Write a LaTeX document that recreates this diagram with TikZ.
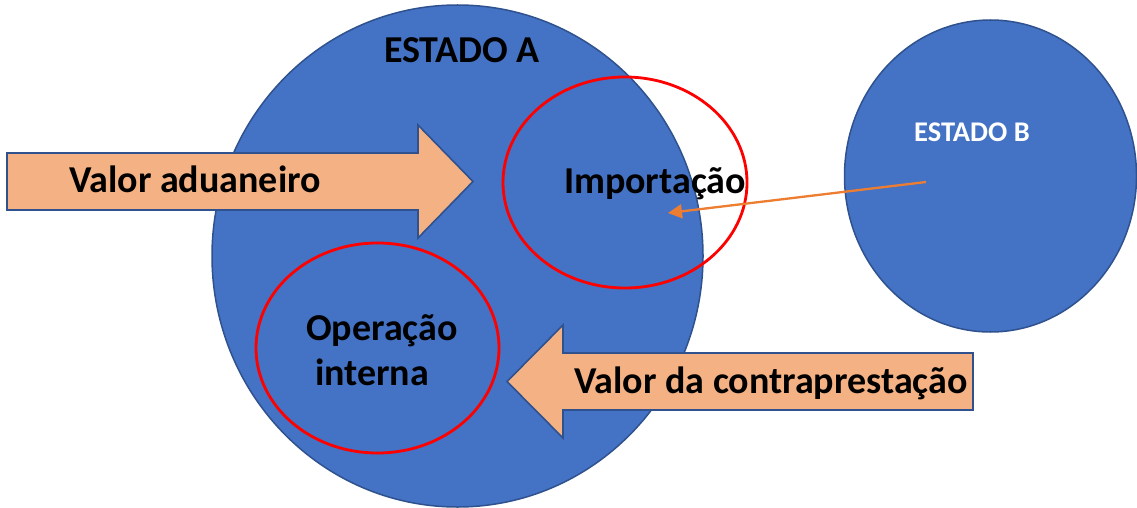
\documentclass[tikz,border=0pt]{standalone}
\usepackage{fontspec}
\setmainfont{Carlito}
\usetikzlibrary{shapes.geometric,arrows.meta}
\definecolor{blueFill}{HTML}{4472C4}
\definecolor{blueLine}{HTML}{2F528F}
\definecolor{arrowFill}{HTML}{F4B183}
\definecolor{orangeLine}{HTML}{ED7D31}
\definecolor{redLine}{HTML}{FF0000}
\tikzset{
  statecircle/.style={ellipse, draw=blueLine, fill=blueFill, line width=1.5pt, inner sep=0pt, outer sep=0pt},
  redring/.style={ellipse, draw=redLine, line width=2.8pt, inner sep=0pt, outer sep=0pt},
  bigarrow/.style={draw=blueLine, fill=arrowFill, line width=1.6pt, line join=miter},
  bigtext/.style={font=\fontsize{38}{45}\selectfont\bfseries, text=black, inner sep=0pt, anchor=base},
  flow/.style={draw=orangeLine, line width=2.3pt, -{Triangle[length=14pt,width=14pt]}}
}
\begin{document}
\begin{tikzpicture}[x=1pt,y=-1pt]
\useasboundingbox (0,0) rectangle (1137,508);
% state circles
\node[statecircle, minimum width=491pt, minimum height=502pt] (A) at (457.5,256) {};
\node[statecircle, minimum width=292pt, minimum height=312pt] (B) at (990.5,176) {};
% arrows
\path[bigarrow] (7,153) -- (418,153) -- (418,125) -- (473,181.5) -- (418,238) -- (418,210) -- (7,210) -- cycle;
\path[bigarrow] (973,353) -- (563,353) -- (563,325) -- (507,381.5) -- (563,438) -- (563,410) -- (973,410) -- cycle;
% red rings
\node[redring, minimum width=244pt, minimum height=211pt] (imp) at (625,182.5) {};
\node[redring, minimum width=243pt, minimum height=210pt] (op) at (377.5,348) {};
% texts
\node[bigtext] (tA) at (462,63) {ESTADO A};
\node[bigtext, text=white, font=\fontsize{28.5}{34}\selectfont\bfseries] (tB) at (972,142) {ESTADO B};
\node[bigtext] (tva) at (195,192) {Valor aduaneiro};
\node[bigtext] (tvc) at (771,393) {Valor da contraprestação};
\node[bigtext] (timp) at (655,193) {Importação};
\node[bigtext] (top1) at (382,340) {Operação};
\node[bigtext] (top2) at (372,385) {interna};
% orange connector
\coordinate (src) at (926,182);
\coordinate (dst) at (668,213);
\draw[flow] (src) -- (dst);
\end{tikzpicture}
\end{document}
